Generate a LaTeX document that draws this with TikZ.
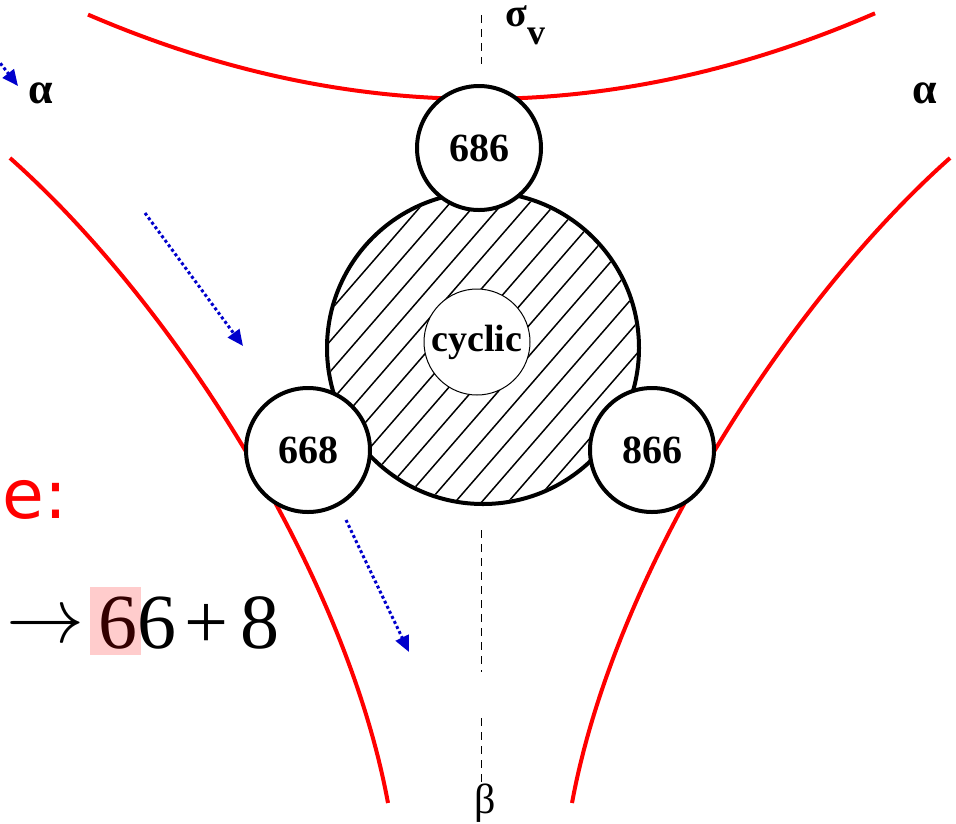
\documentclass[tikz,border=0pt]{standalone}
\usepackage{fix-cm}
\usepackage{fontspec}
\setmainfont{Liberation Serif}
\newfontfamily\dvsans{DejaVu Sans}
\usetikzlibrary{arrows.meta}
\definecolor{flowblue}{RGB}{0,0,204}
\definecolor{hlpink}{RGB}{255,204,204}
\definecolor{darkred}{RGB}{51,0,0}
\begin{document}
\begin{tikzpicture}[x=1pt,y=-1pt,
  ring/.style={circle,draw=black,line width=4pt,fill=white,inner sep=0pt,
    minimum size=124pt,font=\fontsize{40}{40}\selectfont\bfseries},
  redcurve/.style={draw=red,line width=4pt},
  flow/.style={draw=flowblue,line width=3pt,dash pattern=on 3pt off 2.6pt,
    -{Triangle[length=16pt,width=14pt,fill=flowblue]}},
  axisline/.style={draw=black,line width=1pt,dash pattern=on 8pt off 6pt},
  greek/.style={inner sep=0pt,text height=20pt,text depth=6pt,font=\fontsize{44}{44}\selectfont\bfseries},
  bigtext/.style={inner sep=0pt,font=\fontsize{78}{78}\selectfont}]
\useasboundingbox (0,0) rectangle (956,823);
\clip (0,0) rectangle (956,823);
% red curves
\draw[redcurve] plot[domain=88:875,samples=80] (\x,{99-0.000547*(\x-480)*(\x-480)});
\draw[redcurve] (10,158) .. controls (170,300) and (345,570) .. (388,803);
\draw[redcurve] (950,158) .. controls (790,300) and (615,570) .. (572,803);
% axis
\coordinate (axA) at (481,15); \coordinate (axB) at (481,64);
\coordinate (axC) at (481,530); \coordinate (axD) at (481,672);
\coordinate (axE) at (481,718); \coordinate (axF) at (481,782);
\draw[axisline] (axA) -- (axB);
\draw[axisline] (axC) -- (axD);
\draw[axisline] (axE) -- (axF);
% big hatched circle
\node[circle,draw=black,line width=4pt,fill=white,inner sep=0pt,minimum size=312pt] (big) at (483,348) {};
\begin{scope}
  \clip (483,348) circle (154);
  \foreach \k in {-9,...,9}{
    \pgfmathsetmacro{\ax}{483+15.1*\k-131}
    \pgfmathsetmacro{\ay}{348+13.1*\k+151}
    \pgfmathsetmacro{\bx}{483+15.1*\k+131}
    \pgfmathsetmacro{\by}{348+13.1*\k-151}
    \draw[line width=1.5pt] (\ax,\ay) -- (\bx,\by);
  }
\end{scope}
\node[circle,draw=black,line width=1pt,fill=white,inner sep=0pt,minimum size=106pt,
  font=\fontsize{38}{38}\selectfont\bfseries] (cyc) at (477,342) {cyclic};
\node[ring] (n686) at (479,148) {686};
\node[ring] (n668) at (308,450) {668};
\node[ring] (n866) at (652,450) {866};
% labels
\node[inner sep=0pt,anchor=base west,text height=14pt,text depth=1pt,font=\fontsize{40}{40}\selectfont\bfseries] (sig) at (505,26) {σ};
\node[inner sep=0pt,anchor=base west,text height=16pt,text depth=1pt,font=\fontsize{36}{36}\selectfont\bfseries] (sigv) at (527,44) {v};
\node[greek,anchor=base west] (alL) at (28,103) {α};
\node[greek,anchor=base west] (alR) at (912,103) {α};
\node[inner sep=0pt,anchor=base west,text height=26pt,text depth=2pt,font=\fontsize{42}{42}\selectfont] (bet) at (474,813) {β};
% flow arrows
\coordinate (f1a) at (145,213); \coordinate (f1b) at (243,346);
\coordinate (f2a) at (346,520); \coordinate (f2b) at (409,652);
\coordinate (f0a) at (-10,50); \coordinate (f0b) at (18,86);
\draw[flow] (f1a) -- (f1b);
\draw[flow] (f2a) -- (f2b);
\draw[flow] (f0a) -- (f0b);
% left text
\node[inner sep=0pt,anchor=base west,text=red,font=\dvsans\fontsize{68}{68}\selectfont] (elabel) at (2,518) {e:};
\fill[hlpink] (90,587) rectangle (141,655);
\node[inner sep=0pt,anchor=west,font=\fontsize{78}{78}\selectfont] (arr) at (6,628) {$\rightarrow$};
\node[bigtext,anchor=base west,text=darkred] (d1) at (98,648) {6};
\node[bigtext,anchor=base west] (d2) at (137,648) {6};
\node[bigtext,anchor=base west] (plus) at (184,648) {+};
\node[bigtext,anchor=base west] (d3) at (240,648) {8};
\end{tikzpicture}
\end{document}
